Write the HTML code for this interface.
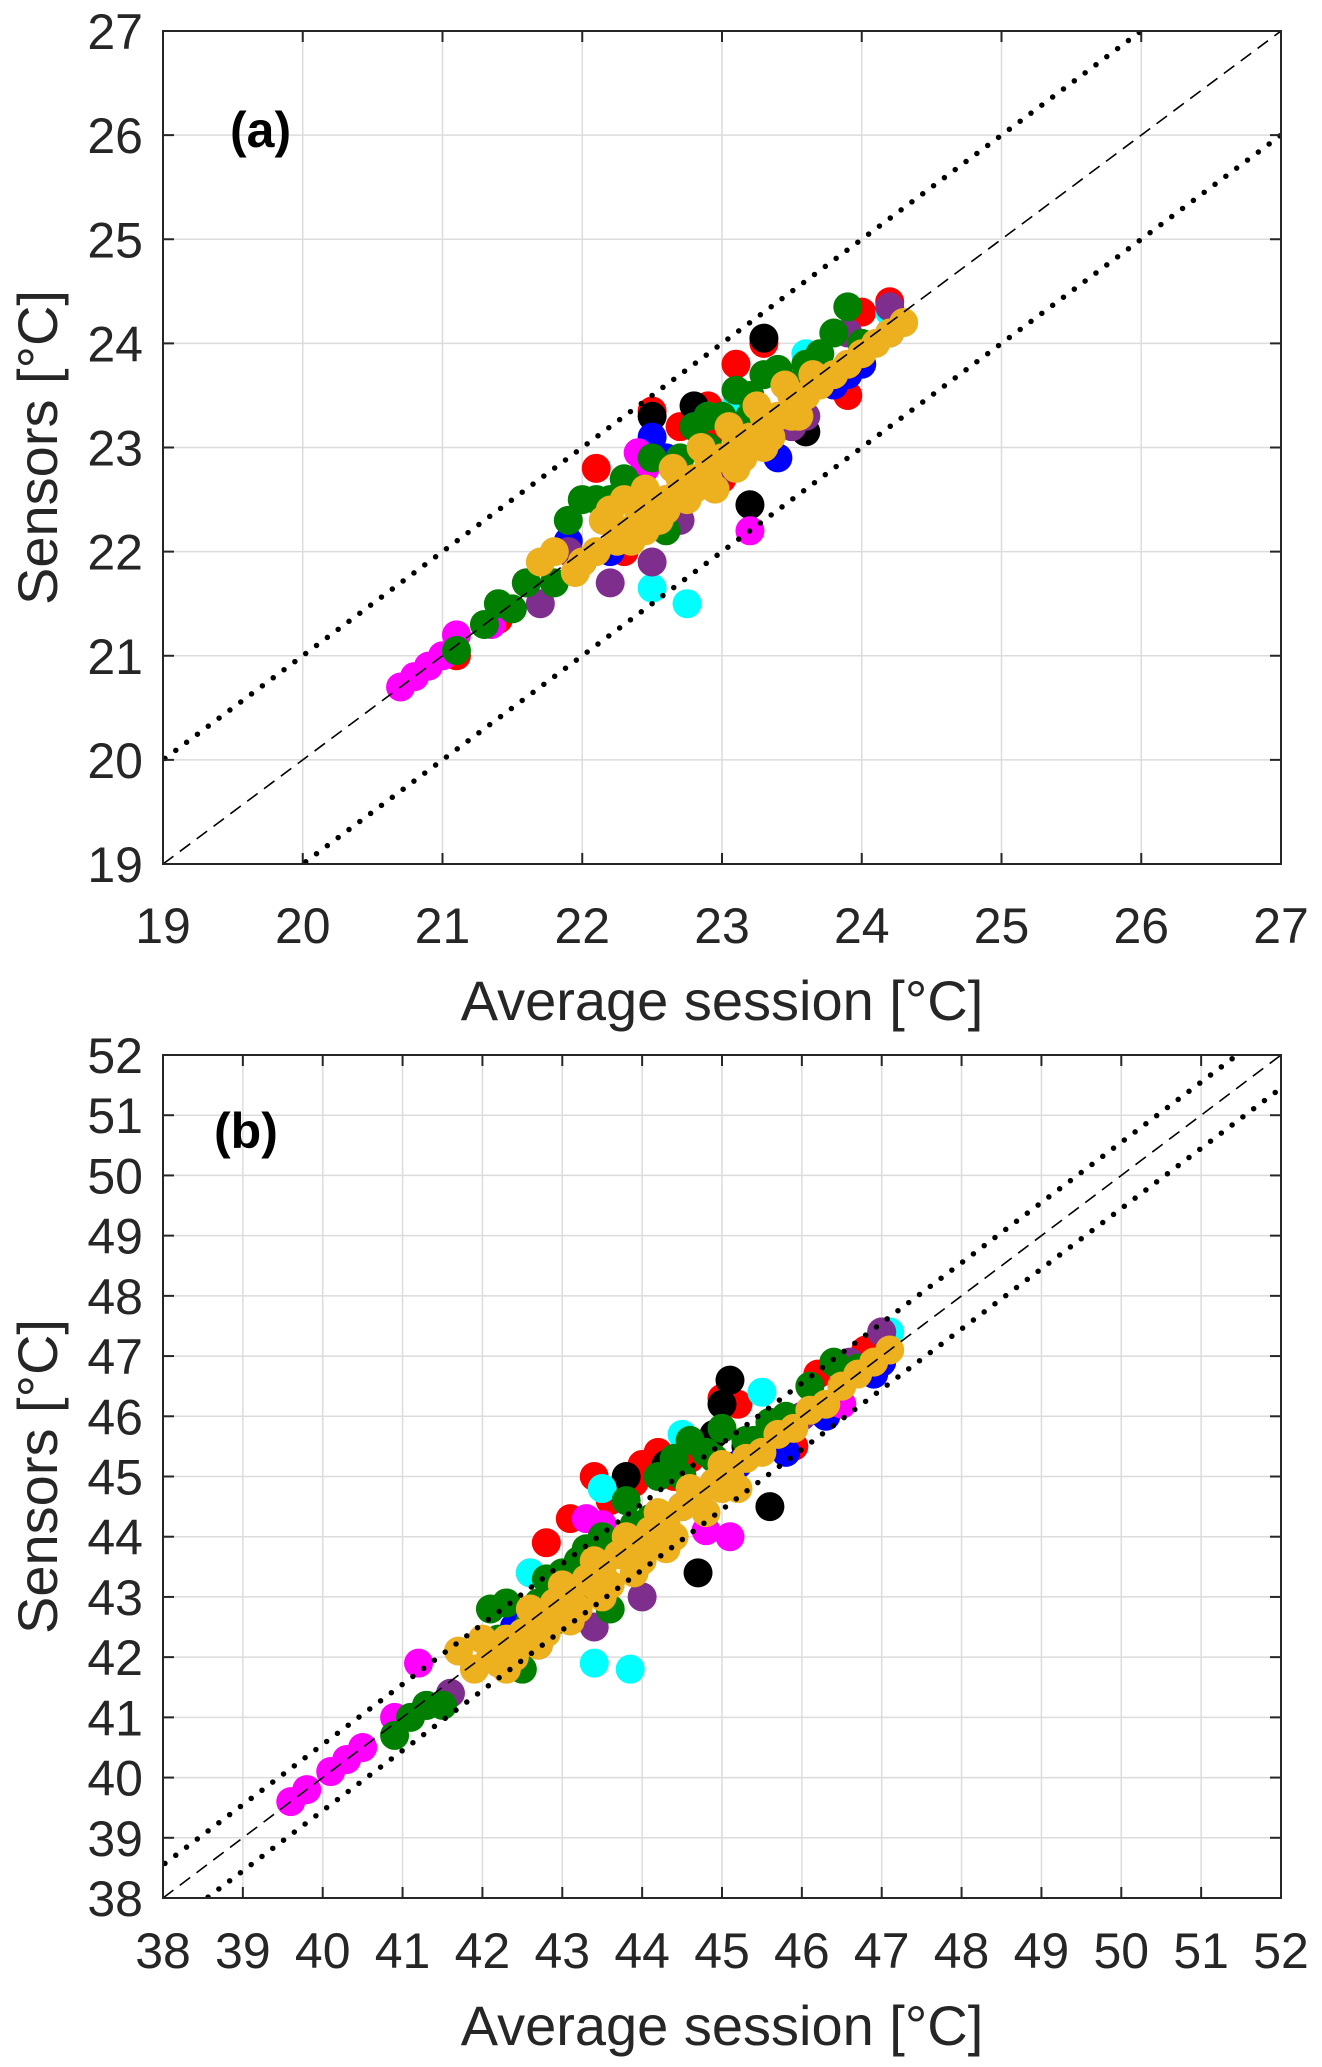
<!DOCTYPE html>
<html><head><meta charset="utf-8"><style>
html,body{margin:0;padding:0;background:#fff;}
svg{display:block;font-family:"Liberation Sans",Arial,sans-serif;}
</style></head><body>
<svg id="fig" width="1322" height="2067" viewBox="0 0 1322 2067" xmlns="http://www.w3.org/2000/svg"></svg>
<script>
// ---------- Panel (a) data ----------
const aTicks = [19,20,21,22,23,24,25,26,27];
const aRedX = [21.1,21.4,22.1,22.5,22.7,22.9,23.1,23.3,23.5,23.8,24.0,24.2,22.3,23.0,23.7,22.9,23.9];
const aRedY = [21.0,21.35,22.8,23.35,23.2,23.4,23.8,24.0,23.5,23.6,24.3,24.4,22.0,22.7,23.7,23.1,23.5];
const aBlackX = [22.5,22.8,23.3,23.6,23.2,22.9,22.0,23.1];
const aBlackY = [23.3,23.4,24.05,23.15,22.45,22.7,21.9,22.9];
const aBlueX = [21.9,22.5,22.8,23.4,23.8,24.0,22.2,24.2,22.6,23.9];
const aBlueY = [22.1,23.1,23.2,22.9,23.6,23.8,22.0,24.1,22.9,23.7];
const aCyanX = [22.5,22.75,23.6,22.1,22.9,24.2,23.1,22.3];
const aCyanY = [21.65,21.5,23.9,22.5,23.3,24.3,23.4,22.6];
const aMagX = [20.7,20.8,20.9,21.0,21.1,21.35,22.4,22.6,22.9,23.2,21.6,22.45,22.35];
const aMagY = [20.7,20.8,20.9,21.0,21.2,21.3,22.95,22.5,22.7,22.2,21.7,22.8,22.65];
const aPurX = [21.7,22.5,22.2,22.95,23.6,24.2,23.9,21.9,22.7,23.5];
const aPurY = [21.5,21.9,21.7,22.7,23.3,24.35,24.1,22.0,22.3,23.2];
const aGreenX = [21.1,21.3,21.5,21.6,22.2,22.4,22.7,23.0,23.2,23.3,23.5,23.6,23.9,24.0,22.6,22.1,22.9,21.8,22.0,22.3,22.5,22.8,23.1,23.4,23.7,23.8,22.9,23.2,21.9,21.4];
const aGreenY = [21.05,21.3,21.45,21.7,22.5,22.6,22.9,23.3,23.5,23.7,23.6,23.8,24.35,24.0,22.2,22.5,23.3,21.7,22.5,22.7,22.9,23.2,23.55,23.75,23.9,24.1,23.0,23.3,22.3,21.5];
const aOrangeX = [21.7,21.95,22.1,22.3,22.4,22.5,22.6,22.7,22.8,22.9,23.0,23.1,23.2,23.3,23.4,23.5,23.6,23.7,23.8,23.9,24.0,24.1,24.2,24.3,22.2,22.5,22.8,23.1,23.3,22.35,21.8,22.0,22.15,22.25,22.45,22.55,22.65,22.75,22.85,22.95,23.05,23.15,23.25,23.35,23.45,23.55,23.65,22.3,22.6,22.9,23.2,23.5,22.45,22.7];
const aOrangeY = [21.9,21.8,22.0,22.2,22.4,22.5,22.5,22.7,22.7,22.9,22.9,23.1,23.1,23.3,23.3,23.5,23.5,23.6,23.7,23.8,23.9,24.0,24.1,24.2,22.4,22.3,22.6,22.8,23.0,22.1,22.0,21.9,22.3,22.1,22.6,22.3,22.8,22.5,23.0,22.6,23.2,22.9,23.4,23.1,23.6,23.3,23.7,22.5,22.4,22.7,23.0,23.3,22.2,22.6];
// ---------- Panel (b) data ----------
const bTicks = [38,39,40,41,42,43,44,45,46,47,48,49,50,51,52];
const bRedX = [42.6,42.8,43.1,43.4,43.6,44.0,44.2,44.6,45.0,45.2,45.6,46.2,46.8,47.0,44.3,45.9,43.9,44.4];
const bRedY = [43.4,43.9,44.3,45.0,44.6,45.2,45.4,45.3,46.3,46.2,45.7,46.7,47.1,47.4,44.0,45.5,44.9,45.0];
const bBlackX = [42.7,43.8,44.3,44.7,45.0,45.1,45.6,45.3,44.9,43.2];
const bBlackY = [42.2,45.0,45.2,43.4,46.2,46.6,44.5,45.5,45.7,43.0];
const bBlueX = [42.4,43.0,43.8,44.5,45.2,45.8,46.3,46.9,47.0,44.1];
const bBlueY = [42.5,43.2,43.8,44.5,45.2,45.4,46.0,46.7,46.9,43.9];
const bCyanX = [43.4,43.85,45.5,44.5,46.5,47.1,43.5,42.6];
const bCyanY = [41.9,41.8,46.4,45.7,46.8,47.4,44.8,43.4];
const bMagX = [39.6,39.8,40.1,40.3,40.5,40.9,41.2,43.3,44.8,45.1,46.5,43.5];
const bMagY = [39.6,39.8,40.1,40.3,40.5,41.0,41.9,44.3,44.1,44.0,46.2,44.2];
const bPurX = [41.6,43.4,44.0,46.0,46.6,47.0,41.3,45.6];
const bPurY = [41.4,42.5,43.0,46.0,46.9,47.4,41.2,45.8];
const bGreenX = [40.9,41.1,41.3,41.5,42.1,42.2,42.5,42.7,43.0,43.3,43.5,43.8,44.2,44.4,44.6,44.8,45.0,45.3,45.6,46.1,46.4,46.7,42.9,43.6,42.3,42.6,43.2,43.4,43.9,44.1,44.5,44.9,45.4,45.8,42.8,43.1];
const bGreenY = [40.7,41.0,41.2,41.2,42.8,42.3,41.8,42.9,43.4,43.8,44.0,44.6,45.0,45.3,45.6,45.4,45.8,45.6,45.9,46.5,46.9,46.8,42.6,42.8,42.9,42.6,43.6,43.2,44.2,44.3,45.0,45.3,45.6,46.0,43.3,42.9];
const bOrangeX = [41.7,41.9,42.1,42.3,42.5,42.7,42.9,43.1,43.3,43.5,43.7,43.9,44.1,44.3,44.5,44.7,44.9,45.1,45.3,45.5,45.7,45.9,46.1,46.3,46.5,46.7,46.9,47.1,42.2,42.8,43.4,44.0,45.0,42.0,42.4,42.6,42.8,43.0,43.2,43.4,43.6,43.8,44.0,44.2,44.4,44.6,44.8,45.0,45.2,42.3,42.7,43.1,43.5,43.9,44.3];
const bOrangeY = [42.1,41.8,42.0,42.3,42.4,42.6,42.9,43.0,43.3,43.4,43.7,43.8,44.1,44.2,44.5,44.6,44.9,45.0,45.3,45.4,45.7,45.8,46.1,46.2,46.5,46.7,46.9,47.1,41.9,42.6,43.2,43.8,44.8,42.3,42.0,42.8,42.4,43.2,42.8,43.6,43.2,44.0,43.6,44.4,44.0,44.8,44.4,45.2,44.8,41.8,42.2,42.6,43.0,43.4,43.8];

const NS = "http://www.w3.org/2000/svg";
const svg = document.getElementById('fig');
function mk(tag, attrs, parent){const e=document.createElementNS(NS,tag);for(const k in attrs)e.setAttribute(k,attrs[k]);(parent||svg).appendChild(e);return e;}

function panel(cfg){
  const {L,T,R,B,min,max,ticks,label,labelX,labelY,tickY,titleY,series,band,name}=cfg;
  const g = mk('g',{});
  
  
  const sx = v => L + (v-min)/(max-min)*(R-L);
  const sy = v => B - (v-min)/(max-min)*(B-T);
  const clipId='clip-'+name;
  const cp=mk('clipPath',{id:clipId},g); mk('rect',{x:L,y:T,width:R-L,height:B-T},cp);
  ticks.forEach(t=>{
    const gx=mk('line',{x1:sx(t),x2:sx(t),y1:T,y2:B,stroke:'#dcdcdc','stroke-width':1.5},g);
    
    
    const gy=mk('line',{x1:L,x2:R,y1:sy(t),y2:sy(t),stroke:'#dcdcdc','stroke-width':1.5},g);
    
    
  });
  const pg = mk('g',{'clip-path':'url(#'+clipId+')'},g);
  series.forEach(s=>{
    const sg=mk('g',{fill:s.c},pg);
    
    
    s.x.forEach((v,i)=>{
      const c=mk('circle',{cx:sx(v),cy:sy(s.y[i]),r:14.5},sg);
      
      
    });
  });
  const d=mk('line',{x1:sx(min),y1:sy(min),x2:sx(max),y2:sy(max),stroke:'#000','stroke-width':1.6,'stroke-dasharray':'13 8'},pg);
  
  
  [band,-band].forEach((o,i)=>{
    const l=mk('line',{x1:sx(min-2),y1:sy(min-2+o),x2:sx(max+2),y2:sy(max+2+o),stroke:'#000','stroke-width':5.5,'stroke-linecap':'round','stroke-dasharray':'0 13.5'},pg);
    
    
  });
  const bx=mk('rect',{x:L,y:T,width:R-L,height:B-T,fill:'none',stroke:'#262626','stroke-width':2},g);
  
  
  ticks.forEach(t=>{
    mk('line',{x1:sx(t),x2:sx(t),y1:B,y2:B-11,stroke:'#262626','stroke-width':2},g);
    mk('line',{x1:sx(t),x2:sx(t),y1:T,y2:T+11,stroke:'#262626','stroke-width':2},g);
    mk('line',{x1:L,x2:L+11,y1:sy(t),y2:sy(t),stroke:'#262626','stroke-width':2},g);
    mk('line',{x1:R,x2:R-11,y1:sy(t),y2:sy(t),stroke:'#262626','stroke-width':2},g);
    const xt=mk('text',{x:sx(t),y:tickY,'text-anchor':'middle','font-size':50,fill:'#262626'},g);
    xt.textContent=t;
    
    
    const yt=mk('text',{x:L-20,y:sy(t)+18,'text-anchor':'end','font-size':50,fill:'#262626'},g);
    yt.textContent=t;
    
    
  });
  const xt=mk('text',{x:(L+R)/2,y:titleY,'text-anchor':'middle','font-size':56,fill:'#262626'},g);
  xt.textContent='Average session [°C]';
  
  
  const yc=(T+B)/2;
  const yt=mk('text',{x:57,y:yc,'text-anchor':'middle','font-size':56,fill:'#262626',transform:'rotate(-90 57 '+yc+')'},g);
  yt.textContent='Sensors [°C]';
  
  
  const pl=mk('text',{x:labelX,y:labelY,'font-size':50,'font-weight':'bold',fill:'#000'},g);
  pl.textContent=label;
  
  
}
const cols={red:'#ff0000',black:'#000000',blue:'#0000ff',cyan:'#00ffff',magenta:'#ff00ff',purple:'#7e2f8e',green:'#007f00',orange:'#edb120'};
panel({name:'panel-a',L:163,T:31,R:1281,B:864,min:19,max:27,ticks:aTicks,label:'(a)',labelX:230,labelY:147,tickY:943,titleY:1020,band:1,
 series:[{n:'red',c:cols.red,x:aRedX,y:aRedY},{n:'black',c:cols.black,x:aBlackX,y:aBlackY},{n:'blue',c:cols.blue,x:aBlueX,y:aBlueY},{n:'cyan',c:cols.cyan,x:aCyanX,y:aCyanY},{n:'magenta',c:cols.magenta,x:aMagX,y:aMagY},{n:'purple',c:cols.purple,x:aPurX,y:aPurY},{n:'green',c:cols.green,x:aGreenX,y:aGreenY},{n:'orange',c:cols.orange,x:aOrangeX,y:aOrangeY}]});
panel({name:'panel-b',L:163,T:1055,R:1281,B:1898,min:38,max:52,ticks:bTicks,label:'(b)',labelX:214,labelY:1148,tickY:1968,titleY:2045,band:0.55,
 series:[{n:'red',c:cols.red,x:bRedX,y:bRedY},{n:'black',c:cols.black,x:bBlackX,y:bBlackY},{n:'blue',c:cols.blue,x:bBlueX,y:bBlueY},{n:'cyan',c:cols.cyan,x:bCyanX,y:bCyanY},{n:'magenta',c:cols.magenta,x:bMagX,y:bMagY},{n:'purple',c:cols.purple,x:bPurX,y:bPurY},{n:'green',c:cols.green,x:bGreenX,y:bGreenY},{n:'orange',c:cols.orange,x:bOrangeX,y:bOrangeY}]});
</script>
</body></html>
